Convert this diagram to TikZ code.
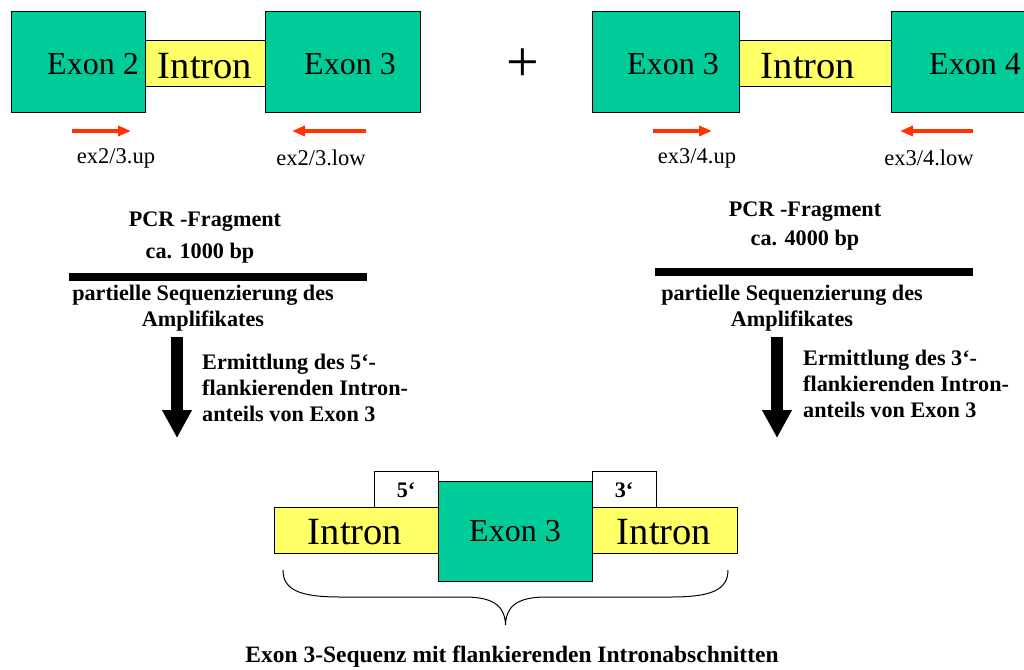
\documentclass[tikz,border=0pt]{standalone}
\usepackage{fontspec}
\setmainfont{Liberation Serif}
\usetikzlibrary{arrows.meta}
\definecolor{exongreen}{RGB}{0,204,153}
\definecolor{intronyellow}{RGB}{255,255,102}
\definecolor{primerred}{RGB}{255,51,0}
\begin{document}
\begin{tikzpicture}[x=1pt,y=-1pt,
  exonbox/.style={draw=black, line width=1pt, fill=exongreen, inner sep=0pt, anchor=north west},
  intronbox/.style={draw=black, line width=1pt, fill=intronyellow, inner sep=0pt, anchor=north west},
  endbox/.style={draw=black, line width=0.8pt, fill=white, inner sep=0pt, anchor=north west},
  bigtxt/.style={font=\fontsize{32}{36}\selectfont, inner sep=0pt},
  introntxt/.style={font=\fontsize{38.5}{42}\selectfont, inner sep=0pt},
  primerlbl/.style={font=\fontsize{22.5}{26}\selectfont, inner sep=0pt},
  boldtxt/.style={font=\bfseries\fontsize{22.2}{26}\selectfont, inner sep=0pt},
  primer/.style={draw=primerred, line width=4pt, -{Triangle[length=13pt,width=10pt]}},
  fragbar/.style={line width=8pt},
  downarrow/.style={line width=12pt, -{Triangle[length=28pt,width=28pt]}}
]
\useasboundingbox (0,0) rectangle (1024,669);

% ---------- top left gene ----------
\node[intronbox, minimum width=120pt, minimum height=46pt] (i23) at (145,40) {};
\node[exonbox, minimum width=134pt, minimum height=101pt] (e2) at (11,11) {};
\node[exonbox, minimum width=155pt, minimum height=101pt] (e3a) at (265,11) {};
\node[bigtxt] (t-e2) at (93,64) {Exon 2};
\node[introntxt] (t-i23) at (205,66) {Intron};
\node[bigtxt] (t-e3a) at (350,64) {Exon 3};

\coordinate (p1s) at (72,131);  \coordinate (p1e) at (131,131);
\coordinate (p2s) at (366,131); \coordinate (p2e) at (292,131);
\draw[primer] (p1s) -- (p1e);
\draw[primer] (p2s) -- (p2e);
\node[primerlbl] (l1) at (116,158) {ex2/3.up};
\node[primerlbl] (l2) at (321,158) {ex2/3.low};

\node[font=\fontsize{58}{60}\selectfont, inner sep=0pt] (plus) at (523,65) {+};

% ---------- top right gene ----------
\node[intronbox, minimum width=152pt, minimum height=46pt] (i34) at (739,40) {};
\node[exonbox, minimum width=147pt, minimum height=101pt] (e3b) at (592,11) {};
\node[exonbox, minimum width=140pt, minimum height=101pt] (e4) at (891,11) {};
\node[bigtxt] (t-e3b) at (673,64) {Exon 3};
\node[introntxt] (t-i34) at (808,66) {Intron};
\node[bigtxt] (t-e4) at (975,64) {Exon 4};

\coordinate (p3s) at (653,131); \coordinate (p3e) at (712,131);
\coordinate (p4s) at (973,131); \coordinate (p4e) at (900,131);
\draw[primer] (p3s) -- (p3e);
\draw[primer] (p4s) -- (p4e);
\node[primerlbl] (l3) at (697,158) {ex3/4.up};
\node[primerlbl] (l4) at (929,158) {ex3/4.low};

% ---------- left PCR ----------
\node[boldtxt] (pcr1) at (205,222) {PCR -Fragment};
\node[boldtxt] (bp1) at (200,253) {ca. 1000 bp};
\coordinate (b1s) at (69,277); \coordinate (b1e) at (367,277);
\draw[fragbar] (b1s) -- (b1e);
\node[boldtxt, align=center] (seq1) at (203,308) {partielle Sequenzierung des\\Amplifikates};
\coordinate (a1s) at (177,337); \coordinate (a1e) at (177,438);
\draw[downarrow] (a1s) -- (a1e);
\node[boldtxt, align=left, anchor=west] (erm1) at (202,388) {Ermittlung des 5‘-\\flankierenden Intron-\\anteils von Exon 3};

% ---------- right PCR ----------
\node[boldtxt] (pcr2) at (805,212) {PCR -Fragment};
\node[boldtxt] (bp2) at (805,240) {ca. 4000 bp};
\coordinate (b2s) at (655,272); \coordinate (b2e) at (973,272);
\draw[fragbar] (b2s) -- (b2e);
\node[boldtxt, align=center] (seq2) at (792,308) {partielle Sequenzierung des\\Amplifikates};
\coordinate (a2s) at (777,337); \coordinate (a2e) at (777,438);
\draw[downarrow] (a2s) -- (a2e);
\node[boldtxt, align=left, anchor=west] (erm2) at (803,384) {Ermittlung des 3‘-\\flankierenden Intron-\\anteils von Exon 3};

% ---------- bottom result ----------
\node[intronbox, minimum width=164pt, minimum height=46pt] (il) at (274,507) {};
\node[intronbox, minimum width=145pt, minimum height=46pt] (ir) at (592,507) {};
\node[exonbox, minimum width=154pt, minimum height=100pt] (e3c) at (438,481) {};
\node[endbox, minimum width=64pt, minimum height=36pt] (five) at (374,471) {};
\node[endbox, minimum width=64pt, minimum height=36pt] (three) at (592,471) {};
\node[boldtxt] (t-five) at (406,490) {5‘};
\node[boldtxt] (t-three) at (624,490) {3‘};
\node[introntxt] (t-il) at (355,532) {Intron};
\node[bigtxt] (t-e3c) at (515,531) {Exon 3};
\node[introntxt] (t-ir) at (664,532) {Intron};

\draw[line width=1pt] (283,570) .. controls (283,590) and (300,597) .. (340,597)
  -- (465,597) .. controls (496,597) and (505,608) .. (505.5,625)
  .. controls (506,608) and (515,597) .. (546,597)
  -- (671,597) .. controls (711,597) and (728,590) .. (728,570);

\node[font=\bfseries\fontsize{23.5}{27}\selectfont, inner sep=0pt] (result) at (512,657) {Exon 3-Sequenz mit flankierenden Intronabschnitten};
\end{tikzpicture}
\end{document}
